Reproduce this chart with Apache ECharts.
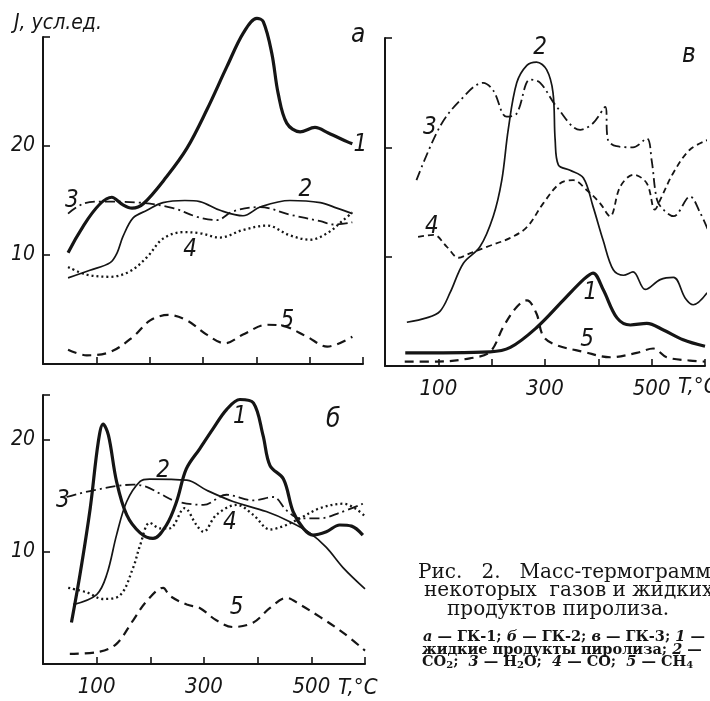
<!DOCTYPE html>
<html>
<head>
<meta charset="utf-8">
<script src="https://cdn.jsdelivr.net/npm/echarts@6/dist/echarts.min.js"></script>
<style>
html, body { margin: 0; padding: 0; background: #fff; }
#chart { width: 710px; height: 701px; }
</style>
</head>
<body>
<div id="chart"></div>
<script>
// temperature ticks that carry a label, intensity ticks that carry a label
const tLabels = [100, 300, 500];
const jLabels = [10, 20];

// а — ГК-1, [T °C, J]
const a1 = [[47,10.2],[129,15.3],[150,14.6],[167,14.3],[188,14.7],[232,17.2],[270,19.8],[307,23.3],[345,27.3],[376,30.4],[401,31.7],[413,31.4],[429,28.5],[441,24.8],[457,22.1],[482,21.3],[510,21.7],[535,21.2],[570,20.4],[580,20.2]];
const a2 = [[47,7.9],[88,8.6],[126,9.3],[139,10.2],[150,11.7],[169,13.4],[195,14.1],[225,14.8],[266,15.0],[294,14.9],[332,14.1],[375,13.6],[407,14.4],[463,15.0],[520,14.8],[551,14.3],[580,13.8]];
const a3 = [[47,13.8],[75,14.7],[107,14.9],[182,14.8],[244,14.3],[289,13.5],[326,13.2],[356,14.0],[407,14.4],[463,13.7],[520,13.1],[544,12.8],[580,13.0]];
const a4 = [[47,8.9],[82,8.2],[126,8.0],[163,8.5],[195,9.8],[225,11.5],[263,12.1],[294,12.0],[332,11.6],[375,12.3],[420,12.7],[463,11.8],[501,11.4],[533,12.0],[563,13.2],[580,13.9]];
const a5 = [[47,1.3],[82,0.8],[126,1.1],[169,2.5],[201,4.0],[235,4.5],[270,4.0],[307,2.7],[341,1.9],[375,2.7],[420,3.6],[450,3.5],[495,2.5],[533,1.6],[580,2.5]];

// б — ГК-2
const b1 = [[53,3.7],[69,8.0],[88,13.9],[103,19.8],[112,21.4],[122,20.4],[137,16.3],[156,13.3],[181,11.7],[205,11.2],[230,12.4],[249,14.5],[267,17.4],[292,19.2],[317,21.0],[342,22.7],[367,23.6],[392,23.3],[410,20.4],[423,17.7],[448,16.5],[466,13.6],[485,12.1],[503,11.5],[528,11.8],[553,12.4],[575,12.3],[596,11.5]];
const b2 = [[56,5.3],[100,6.2],[119,8.0],[137,11.5],[156,14.5],[181,16.3],[199,16.5],[268,16.4],[305,15.5],[354,14.5],[416,13.6],[460,12.7],[497,11.7],[528,10.4],[559,8.6],[600,6.7]];
const b3 = [[44,14.9],[94,15.5],[168,16.0],[193,15.8],[218,15.2],[249,14.5],[299,14.2],[342,15.1],[392,14.6],[429,14.9],[454,13.7],[479,13.0],[516,13.0],[553,13.5],[596,14.3]];
const b4 = [[47,6.8],[81,6.4],[112,5.8],[143,6.1],[168,8.6],[181,10.6],[199,12.6],[218,12.1],[236,12.1],[264,13.9],[286,12.4],[299,11.8],[323,13.3],[361,14.2],[392,13.3],[423,12.0],[448,12.3],[479,13.0],[516,13.9],[559,14.3],[581,13.9],[600,13.2]];
const b5 = [[50,0.9],[106,1.1],[137,1.8],[168,3.9],[193,5.6],[224,6.8],[236,6.1],[268,5.3],[292,5.0],[323,3.9],[354,3.3],[392,3.7],[423,5.0],[454,5.9],[479,5.3],[516,4.2],[559,2.8],[600,1.2]];

// в — ГК-3
const v1 = [[38,1.2],[197,1.3],[235,1.7],[284,3.5],[334,6.0],[372,7.9],[390,8.5],[409,7.0],[435,4.4],[460,3.75],[491,3.9],[522,3.3],[559,2.4],[600,1.8]];
const v2 = [[41,4.0],[78,4.4],[103,5.0],[122,6.7],[147,9.4],[178,10.9],[203,13.7],[219,17.0],[231,21.6],[247,25.9],[266,27.5],[284,27.8],[303,27.1],[315,25.0],[319,20.7],[325,18.4],[347,17.9],[372,17.2],[390,14.6],[409,11.5],[428,8.8],[447,8.3],[465,8.6],[488,7.0],[516,7.9],[541,8.1],[563,6.2],[578,5.6],[604,6.7]];
const v3 = [[59,17.0],[103,21.9],[141,24.3],[184,25.9],[203,25.2],[228,22.8],[247,23.1],[272,26.2],[291,25.9],[322,23.7],[366,21.6],[390,22.2],[413,23.7],[418,20.7],[434,20.1],[465,20.0],[491,20.8],[500,18.8],[510,15.2],[522,14.3],[541,13.7],[572,15.5],[591,14.0],[606,12.4]];
const v4 = [[62,11.8],[91,12.0],[116,10.9],[138,9.9],[159,10.3],[191,10.9],[234,11.7],[266,12.7],[297,14.9],[328,16.7],[353,17.0],[378,16.1],[403,14.9],[422,13.7],[441,16.4],[466,17.5],[491,16.7],[506,14.3],[516,15.2],[541,17.7],[572,19.8],[606,20.7]];
const v5 = [[37,0.4],[97,0.4],[159,0.7],[197,1.3],[222,3.6],[247,5.4],[266,6.0],[284,4.8],[297,2.7],[322,1.9],[372,1.3],[422,0.8],[472,1.2],[503,1.6],[528,0.8],[572,0.5],[600,0.4]];

// curve numbers written next to the lines, [T, J, text]
const aNums = [[595,20.1,'1'],[492,16.0,'2'],[54,15.0,'3'],[276,10.5,'4'],[458,4.0,'5']];
const bNums = [[367,22.1,'1'],[224,17.2,'2'],[37,14.6,'3'],[348,12.6,'4'],[361,5.0,'5']];
const vNums = [[385,6.7,'1'],[291,29.1,'2'],[84,21.8,'3'],[88,12.7,'4'],[379,2.4,'5']];

const ink = '#151515';
const numFont = "'Liberation Sans Narrow', 'DejaVu Sans Condensed', sans-serif";
const serif = "'DejaVu Serif', 'Liberation Serif', serif";

// line looks: 1 thick, 2 thin, 3 dash-dot, 4 dotted (dashed in panel в), 5 dashed
const styles = {
  thick: { width: 3.2, type: 'solid' },
  thin: { width: 1.7, type: 'solid' },
  dashDot: { width: 1.8, type: [10, 4, 2, 4] },
  dotted: { width: 2.3, type: [2, 3] },
  shortDash: { width: 1.8, type: [6, 4] },
  dashed: { width: 2.2, type: [9, 6] }
};

function curve(data, look, grid) {
  return {
    type: 'line',
    xAxisIndex: grid,
    yAxisIndex: grid,
    data: data,
    smooth: 0.35,
    showSymbol: false,
    clip: false,
    silent: true,
    lineStyle: { color: ink, width: styles[look].width, type: styles[look].type }
  };
}

function numbers(data, grid) {
  return {
    type: 'scatter',
    xAxisIndex: grid,
    yAxisIndex: grid,
    data: data,
    symbolSize: 0,
    silent: true,
    itemStyle: { color: ink, opacity: 1 },
    label: {
      show: true,
      position: 'inside',
      formatter: p => p.value[2],
      color: ink,
      opacity: 1,
      fontSize: 24,
      fontStyle: 'italic',
      fontFamily: numFont
    }
  };
}

function xAxis(grid, showLabels) {
  return {
    type: 'value', gridIndex: grid, min: 0, max: 600, interval: 100,
    axisLine: { lineStyle: { color: ink, width: 2 } },
    axisTick: { inside: true, length: 7, lineStyle: { color: ink, width: 1.6 } },
    splitLine: { show: false },
    axisLabel: {
      show: showLabels, margin: 12, color: ink, fontSize: 22, fontStyle: 'italic', fontFamily: numFont,
      formatter: v => tLabels.includes(v) ? String(v) : ''
    }
  };
}

function yAxis(grid, max, showLabels) {
  return {
    type: 'value', gridIndex: grid, min: 0, max: max, interval: 10,
    axisLine: { lineStyle: { color: ink, width: 2 } },
    axisTick: { inside: true, length: 7, lineStyle: { color: ink, width: 1.6 } },
    splitLine: { show: false },
    axisLabel: {
      show: showLabels, margin: 8, color: ink, fontSize: 21, fontStyle: 'italic', fontFamily: numFont,
      formatter: v => jLabels.includes(v) ? String(v) : ''
    }
  };
}

function txt(x, y, text, font, extra) {
  return {
    type: 'text', x: x, y: y, silent: true,
    style: Object.assign({ text: text, fill: ink, font: font, textVerticalAlign: 'middle' }, extra || {})
  };
}

// small caption lines: {i|...} parts in italics, {s|...} subscripts
const capRich = {
  i: { font: "bold italic 14.5px " + serif, fill: ink },
  s: { font: "bold 10px " + serif, fill: ink, verticalAlign: 'bottom', padding: [6, 0, 0, 0] }
};

const chart = echarts.init(document.getElementById('chart'));
chart.setOption({
  animation: false,
  backgroundColor: '#fff',
  grid: [
    { left: 43, top: 37, width: 320, height: 327 },
    { left: 43, top: 395, width: 322, height: 269 },
    { left: 385, top: 38, width: 320, height: 328 }
  ],
  xAxis: [xAxis(0, false), xAxis(1, true), xAxis(2, true)],
  yAxis: [yAxis(0, 30, true), yAxis(1, 24, true), yAxis(2, 30, false)],
  series: [
    curve(a1, 'thick', 0), curve(a2, 'thin', 0), curve(a3, 'dashDot', 0), curve(a4, 'dotted', 0), curve(a5, 'dashed', 0),
    curve(b1, 'thick', 1), curve(b2, 'thin', 1), curve(b3, 'dashDot', 1), curve(b4, 'dotted', 1), curve(b5, 'dashed', 1),
    curve(v1, 'thick', 2), curve(v2, 'thin', 2), curve(v3, 'dashDot', 2), curve(v4, 'shortDash', 2), curve(v5, 'dashed', 2),
    numbers(aNums, 0), numbers(bNums, 1), numbers(vNums, 2)
  ],
  graphic: [
    txt(14, 24, 'J, усл.ед.', "italic 21px " + numFont),
    txt(351, 35, 'а', "italic 26px " + numFont),
    txt(326, 420, 'б', "italic 26px " + numFont),
    txt(682, 55, 'в', "italic 26px " + numFont),
    txt(338, 688, 'T,°C', "italic 22px " + numFont),
    txt(678, 387, 'T,°C', "italic 22px " + numFont),
    txt(418, 573, 'Рис.   2.   Масс-термограммы', "20px " + serif),
    txt(424, 591, 'некоторых  газов и жидких', "20px " + serif),
    txt(447, 610, 'продуктов пиролиза.', "20px " + serif),
    txt(423, 637, '{i|а} — ГК-1; {i|б} — ГК-2; {i|в} — ГК-3; {i|1} —', "bold 14.5px " + serif, { rich: capRich }),
    txt(422, 650, 'жидкие продукты пиролиза; {i|2} —', "bold 14.5px " + serif, { rich: capRich }),
    txt(422, 662, 'CO{s|2};  {i|3} — H{s|2}O;  {i|4} — CO;  {i|5} — CH{s|4}', "bold 14.5px " + serif, { rich: capRich })
  ]
});
</script>
</body>
</html>
